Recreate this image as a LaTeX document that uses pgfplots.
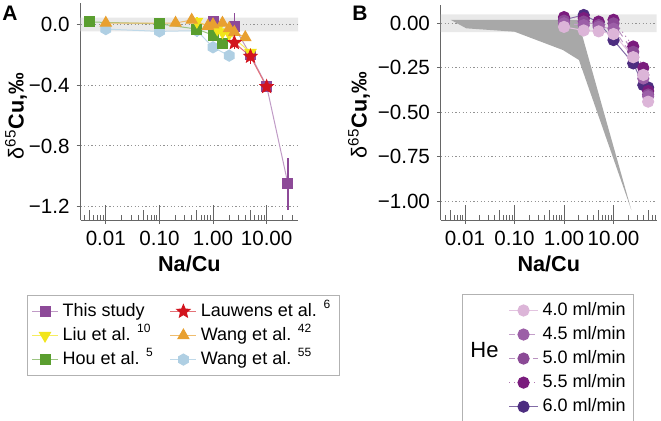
\documentclass[border=0pt]{standalone}
\usepackage{fontspec}
\setmainfont{Liberation Sans}
\usepackage{pgfplots}
\pgfplotsset{compat=1.18}

\definecolor{cThis}{HTML}{8D4A98}
\definecolor{cLiu}{HTML}{F2E51B}
\definecolor{cHou}{HTML}{5A9E2F}
\definecolor{cLau}{HTML}{D2141E}
\definecolor{cWa}{HTML}{E8A030}
\definecolor{cWb}{HTML}{AFCFE3}
\definecolor{hA}{HTML}{DCB5D8}
\definecolor{hB}{HTML}{9C5FA7}
\definecolor{hC}{HTML}{8B4A96}
\definecolor{hD}{HTML}{7A1C7D}
\definecolor{hE}{HTML}{4D2D80}
\definecolor{axgray}{HTML}{666666}
\definecolor{band}{HTML}{E9E9E9}
\definecolor{poly}{HTML}{A8A8A8}

\pgfdeclareplotmark{hexagon*}{%
  \pgfpathmoveto{\pgfpointpolar{90}{\pgfplotmarksize}}%
  \pgfpathlineto{\pgfpointpolar{150}{\pgfplotmarksize}}%
  \pgfpathlineto{\pgfpointpolar{210}{\pgfplotmarksize}}%
  \pgfpathlineto{\pgfpointpolar{270}{\pgfplotmarksize}}%
  \pgfpathlineto{\pgfpointpolar{330}{\pgfplotmarksize}}%
  \pgfpathlineto{\pgfpointpolar{30}{\pgfplotmarksize}}%
  \pgfpathclose\pgfusepathqfillstroke}
\pgfdeclareplotmark{fstar}{%
  \pgfpathmoveto{\pgfpointpolar{90}{\pgfplotmarksize}}%
  \pgfpathlineto{\pgfpointpolar{126}{0.45\pgfplotmarksize}}%
  \pgfpathlineto{\pgfpointpolar{162}{\pgfplotmarksize}}%
  \pgfpathlineto{\pgfpointpolar{198}{0.45\pgfplotmarksize}}%
  \pgfpathlineto{\pgfpointpolar{234}{\pgfplotmarksize}}%
  \pgfpathlineto{\pgfpointpolar{270}{0.45\pgfplotmarksize}}%
  \pgfpathlineto{\pgfpointpolar{306}{\pgfplotmarksize}}%
  \pgfpathlineto{\pgfpointpolar{342}{0.45\pgfplotmarksize}}%
  \pgfpathlineto{\pgfpointpolar{18}{\pgfplotmarksize}}%
  \pgfpathlineto{\pgfpointpolar{54}{0.45\pgfplotmarksize}}%
  \pgfpathclose\pgfusepathqfillstroke}

\tikzset{
  sThis/.style={color=cThis!55, line width=0.5pt, solid, mark=square*, mark size=2.5pt, mark options={solid, fill=cThis, draw=cThis}},
  sLiu/.style={color=cLiu!70, line width=0.5pt, solid, mark=triangle*, mark size=3.2pt, mark options={solid, rotate=180, fill=cLiu, draw=cLiu}},
  sHou/.style={color=cHou!60, line width=0.5pt, solid, mark=square*, mark size=2.5pt, mark options={solid, fill=cHou, draw=cHou}},
  sLau/.style={color=cLau!60, line width=0.5pt, solid, mark=fstar, mark size=3.4pt, mark options={solid, fill=cLau, draw=cLau}},
  sWa/.style={color=cWa!70, line width=0.5pt, solid, mark=triangle*, mark size=3.2pt, mark options={solid, fill=cWa, draw=cWa}},
  sWb/.style={color=cWb!80, line width=0.5pt, solid, mark=hexagon*, mark size=2.8pt, mark options={solid, fill=cWb, draw=cWb}},
  sHa/.style={color=hA!80, line width=0.5pt, solid, mark=*, mark size=2.8pt, mark options={solid, fill=hA, draw=hA}},
  sHb/.style={color=hB!60, line width=0.5pt, densely dashed, mark=*, mark size=2.8pt, mark options={solid, fill=hB, draw=hB}},
  sHc/.style={color=hC!60, line width=0.5pt, dashed, mark=*, mark size=2.8pt, mark options={solid, fill=hC, draw=hC}},
  sHd/.style={color=hD!60, line width=0.5pt, dotted, mark=*, mark size=2.8pt, mark options={solid, fill=hD, draw=hD}},
  sHe/.style={color=hE!70, line width=0.5pt, solid, mark=*, mark size=2.8pt, mark options={solid, fill=hE, draw=hE}},
  gridl/.style={draw=gray!85, line width=0.5pt, dash pattern=on 0.6pt off 1.2pt},
}

\newcommand{\refsup}[1]{\textsuperscript{\smash{#1}}}

\pgfplotsset{
  panel/.style={scale only axis,
    axis x line*=bottom, axis y line*=left,
    axis line style={draw=axgray, line width=0.5pt},
    tick style={draw=axgray, line width=0.5pt},
    ticklabel style={font=\fontsize{10.3}{11}\selectfont, text=black},
    tick align=outside, major tick length=2pt, minor tick length=0pt,
    ymajorgrids, grid style={gridl},
    xlabel={Na/Cu}, ylabel={{\mdseries δ\textsuperscript{65}}Cu,‰},
    legend cell align=left,
    legend columns=2,
  },
  tks/.style={scale only axis, hide y axis, axis x line*=bottom,
    x axis line style={draw=none}, xticklabels={}, tick align=inside,
    tick style={draw=axgray, line width=0.5pt}},
}

\begin{document}
\begin{tikzpicture}
\useasboundingbox (0pt,0pt) rectangle (330.5pt,210pt);

% ---------------- Panel A ----------------
\begin{axis}[panel, xmode=log, at={(40.35pt,100pt)}, anchor=south west,
  width=108.65pt, height=108.35pt,
  xmin=0.0034, xmax=38.5, ymin=-1.288, ymax=0.14,
  xtick={0.01,0.1,1,10}, xticklabels={0.01,0.10,1.00,10.00},
  ytick={-1.2,-0.8,-0.4,0}, yticklabels={−1.2,−0.8,−0.4,0.0},
  xlabel style={at={(axis description cs:0.5,-0.203)}, anchor=center, font=\fontsize{10.8}{12}\selectfont\bfseries},
  ylabel style={at={(axis description cs:-0.298,0.48)}, anchor=center, font=\fontsize{10.8}{12}\selectfont\bfseries},
  legend style={at={(-0.247,-0.346)}, anchor=north west,
    draw=gray!60, line width=0.5pt, font=\fontsize{9}{10}\selectfont,
    inner sep=2pt, row sep=0pt,
    /tikz/every even column/.append style={column sep=6pt}},
  legend image code/.code={\draw[mark repeat=2,mark phase=2] plot coordinates {(0pt,0pt) (6.5pt,0pt) (13pt,0pt)};},
]
\addplot[fill=band, draw=none, forget plot] coordinates {(0.0034,-0.045) (38.5,-0.045) (38.5,0.045) (0.0034,0.045) (0.0034,-0.045)};
\addplot[gridl, forget plot] coordinates {(0.0034,0) (38.5,0)};

\addplot[sWb, forget plot, error bars/.cd, y dir=both, y explicit, error mark=none, error bar style={line width=0.8pt, color=cWb}] coordinates {
 (0.01,-0.03) +- (0,0.035) (0.1,-0.045) +- (0,0.01) (0.5,-0.04) +- (0,0.04) (1.0,-0.15) +- (0,0.01) (2.0,-0.205) +- (0,0.01)};
\addplot[sThis, forget plot, error bars/.cd, y dir=both, y explicit, error mark=none, error bar style={line width=0.8pt, color=cThis}] coordinates {
 (1.0,0.02) +- (0,0.02) (2.5,-0.015) +- (0,0.09) (5.0,-0.20) +- (0,0.03) (10,-0.405) +- (0,0.02) (25,-1.05) +- (0,0.17)};
\addplot[sHou, forget plot] coordinates {
 (0.005,0.017) (0.1,0.005) (0.5,-0.03) (1.0,-0.07) (1.5,-0.125)};
\addplot[sLiu, forget plot, error bars/.cd, y dir=both, y explicit, error mark=none, error bar style={line width=0.8pt, color=cLiu}] coordinates {
 (0.5,0.02) +- (0,0.03) (1.2,-0.03) +- (0,0.01) (1.5,-0.05) +- (0,0.01) (2.0,-0.06) +- (0,0.03) (5.0,-0.185) +- (0,0.03)};
\addplot[sWa, forget plot] coordinates {
 (0.01,0.01) (0.2,0.01) (0.4,0.03) (0.8,-0.01) (1.0,0.0) (1.5,0.01) (2.0,-0.025) (2.5,-0.05) (4.0,-0.085)};
\addplot[sLau, forget plot, error bars/.cd, y dir=both, y explicit, error mark=none, error bar style={line width=0.8pt, color=cLau}] coordinates {
 (2.5,-0.12) +- (0,0.04) (5.0,-0.21) +- (0,0.05) (10,-0.41) +- (0,0.02)};

\addlegendimage{sThis}\addlegendentry{This study}
\addlegendimage{sLau}\addlegendentry{Lauwens et al. \refsup{6}}
\addlegendimage{sLiu}\addlegendentry{Liu et al. \refsup{10}}
\addlegendimage{sWa}\addlegendentry{Wang et al. \refsup{42}}
\addlegendimage{sHou}\addlegendentry{Hou et al. \refsup{5}}
\addlegendimage{sWb}\addlegendentry{Wang et al. \refsup{55}}
\end{axis}

\begin{axis}[tks, xmode=log, at={(40.35pt,100pt)}, anchor=south west,
  width=108.65pt, height=108.35pt,
  xmin=0.0034, xmax=38.5, ymin=-1.288, ymax=0.14,
  xtick={0.01,0.1,1,10}, major tick length=7.5pt, minor tick length=2.5pt,
  minor xtick={0.004,0.006,0.007,0.008,0.009,0.02,0.03,0.04,0.06,0.07,0.08,0.09,0.2,0.3,0.4,0.6,0.7,0.8,0.9,2,3,4,6,7,8,9,20,30}]
\end{axis}
\begin{axis}[tks, xmode=log, at={(40.35pt,100pt)}, anchor=south west,
  width=108.65pt, height=108.35pt,
  xmin=0.0034, xmax=38.5, ymin=-1.288, ymax=0.14,
  xtick={0.005,0.05,0.5,5}, major tick length=5pt, minor tick length=0pt]
\end{axis}

% ---------------- Panel B ----------------
\begin{axis}[panel, xmode=log, at={(220.5pt,100pt)}, anchor=south west,
  width=107.85pt, height=107.5pt,
  xmin=0.00327, xmax=74.5, ymin=-1.105, ymax=0.103,
  xtick={0.01,0.1,1,10}, xticklabels={0.01,0.10,1.00,10.00},
  ytick={-1,-0.75,-0.5,-0.25,0}, yticklabels={−1.00,−0.75,−0.50,−0.25,0.00},
  xlabel style={at={(axis description cs:0.5,-0.205)}, anchor=center, font=\fontsize{10.8}{12}\selectfont\bfseries},
  ylabel style={at={(axis description cs:-0.38,0.488)}, anchor=center, font=\fontsize{10.8}{12}\selectfont\bfseries},
  legend style={at={(0.097,-0.344)}, anchor=north west,
    draw=gray!60, line width=0.5pt, font=\fontsize{9}{10}\selectfont,
    inner sep=2pt, row sep=0pt,
    /tikz/every even column/.append style={column sep=3pt}},
  legend image code/.code={\draw[mark repeat=2,mark phase=2] plot coordinates {(0pt,0pt) (7.25pt,0pt) (14.5pt,0pt)};},
]
\addplot[fill=band, draw=none, forget plot] coordinates {(0.00327,-0.05) (74.5,-0.05) (74.5,0.05) (0.00327,0.05) (0.00327,-0.05)};
\addplot[gridl, forget plot] coordinates {(0.00327,0) (74.5,0)};
\addplot[fill=poly, draw=none, forget plot] coordinates {
 (0.0051,0.02) (1.9,0.02) (23,-1.05) (2.0,-0.206) (0.95,-0.15) (0.1,-0.047) (0.0106,-0.028) (0.0051,0.02)};

\addplot[sHe, forget plot] coordinates {(1,0.02) (2.5,0.047) (5,0.005) (10,-0.094) (25,-0.225) (40,-0.347) (50,-0.36)};
\addplot[sHd, forget plot] coordinates {(1,0.035) (2.5,0.03) (5,0.01) (10,0.02) (25,-0.13) (40,-0.25) (50,-0.38)};
\addplot[sHc, forget plot] coordinates {(1,0.015) (2.5,0.01) (5,-0.01) (10,0.0) (25,-0.16) (40,-0.29) (50,-0.40)};
\addplot[sHb, forget plot] coordinates {(1,0.0) (2.5,-0.01) (5,-0.02) (10,-0.03) (25,-0.19) (40,-0.31) (50,-0.41)};
\addplot[sHa, forget plot] coordinates {(1,-0.02) (2.5,-0.04) (5,-0.045) (10,-0.06) (25,-0.19) (40,-0.29) (50,-0.44)};

\addlegendimage{empty legend}\addlegendentry{}
\addlegendimage{sHa}\addlegendentry{4.0 ml/min}
\addlegendimage{empty legend}\addlegendentry{}
\addlegendimage{sHb}\addlegendentry{4.5 ml/min}
\addlegendimage{empty legend}\addlegendentry{\smash{\fontsize{11}{12}\selectfont He}}
\addlegendimage{sHc}\addlegendentry{5.0 ml/min}
\addlegendimage{empty legend}\addlegendentry{}
\addlegendimage{sHd}\addlegendentry{5.5 ml/min}
\addlegendimage{empty legend}\addlegendentry{}
\addlegendimage{sHe}\addlegendentry{6.0 ml/min}
\end{axis}

\begin{axis}[tks, xmode=log, at={(220.5pt,100pt)}, anchor=south west,
  width=107.85pt, height=107.5pt,
  xmin=0.00327, xmax=74.5, ymin=-1.105, ymax=0.103,
  xtick={0.01,0.1,1,10}, major tick length=7.5pt, minor tick length=2.5pt,
  minor xtick={0.004,0.006,0.007,0.008,0.009,0.02,0.03,0.04,0.06,0.07,0.08,0.09,0.2,0.3,0.4,0.6,0.7,0.8,0.9,2,3,4,6,7,8,9,20,30,40,60,70}]
\end{axis}
\begin{axis}[tks, xmode=log, at={(220.5pt,100pt)}, anchor=south west,
  width=107.85pt, height=107.5pt,
  xmin=0.00327, xmax=74.5, ymin=-1.105, ymax=0.103,
  xtick={0.005,0.05,0.5,5,50}, major tick length=5pt, minor tick length=0pt]
\end{axis}

\node[anchor=north west, inner sep=0pt, font=\fontsize{10.5}{12}\selectfont\bfseries] at (1pt,207pt) {A};
\node[anchor=north west, inner sep=0pt, font=\fontsize{10.5}{12}\selectfont\bfseries] at (176pt,207pt) {B};
\end{tikzpicture}
\end{document}
